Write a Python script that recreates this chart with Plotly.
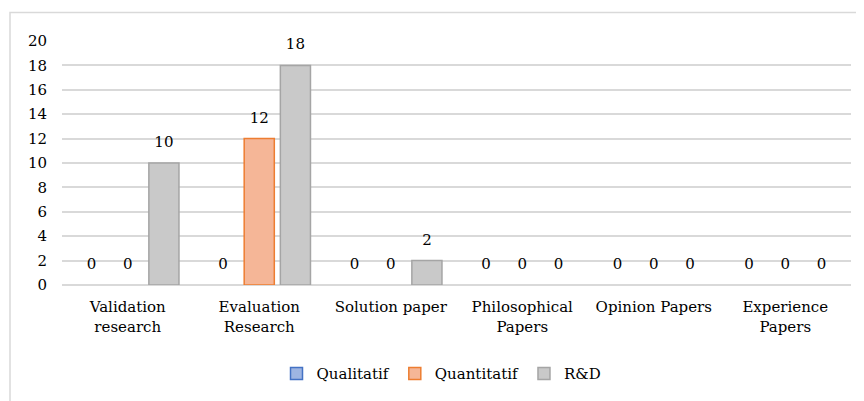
import plotly.graph_objects as go

categories = ["Validation<br>research", "Evaluation<br>Research", "Solution paper",
              "Philosophical<br>Papers", "Opinion Papers", "Experience<br>Papers"]
qualitatif = [0, 0, 0, 0, 0, 0]
quantitatif = [0, 12, 0, 0, 0, 0]
rnd = [10, 18, 2, 0, 0, 0]
y_ticks = [0, 2, 4, 6, 8, 10, 12, 14, 16, 18, 20]

FONT = "DejaVu Serif"
FS = 15

series = [
    ("Qualitatif", qualitatif, "#9EB5E2", "#4472C4"),
    ("Quantitatif", quantitatif, "#F5B697", "#ED7D31"),
    ("R&D", rnd, "#C9C9C9", "#A5A5A5"),
]

fig = go.Figure()
for i, (name, vals, fill, line) in enumerate(series):
    fig.add_trace(go.Bar(
        x=categories, y=vals, name=name, offsetgroup=str(i), showlegend=False,
        marker=dict(color=fill,
                    line=dict(color=line, width=[1.5 if v else 0 for v in vals])),
    ))
    fig.add_trace(go.Bar(
        x=[categories[0]], y=[None], name=name, offsetgroup=str(i), showlegend=True,
        marker=dict(color=fill, line=dict(color=line, width=1.5)), hoverinfo="skip",
    ))
for i, (name, vals, fill, line) in enumerate(series):
    fig.add_trace(go.Scatter(
        x=categories, y=vals, mode="markers+text", offsetgroup=str(i),
        text=[str(v) for v in vals], textposition="top center",
        textfont=dict(family=FONT, size=FS, color="#000000"),
        marker=dict(size=18, color="rgba(0,0,0,0)"),
        showlegend=False, hoverinfo="skip", cliponaxis=False,
    ))

fig.update_layout(
    width=864, height=401,
    margin=dict(l=54, r=21, t=32.5, b=123.5),
    paper_bgcolor="white", plot_bgcolor="white",
    barmode="group", scattermode="group",
    bargap=0.175, bargroupgap=0.167,
    font=dict(family=FONT, size=FS, color="#000000"),
    showlegend=True,
    legend=dict(orientation="h", x=0.481, xanchor="center", y=-0.3635, yanchor="middle",
                font=dict(family=FONT, size=FS), traceorder="normal",
                itemwidth=30, tracegroupgap=0),
    xaxis=dict(showgrid=False, showline=False, ticks="", tickfont=dict(family=FONT, size=FS),
               ticklabelstandoff=11, fixedrange=True),
    yaxis=dict(range=[0, 20], tickvals=y_ticks, showgrid=True, gridcolor="#D9D9D9",
               gridwidth=1.5, zeroline=True, zerolinecolor="#D9D9D9", zerolinewidth=1.5,
               showline=False, ticks="", ticklabelstandoff=14,
               tickfont=dict(family=FONT, size=FS)),
    shapes=[dict(type="rect", xref="paper", yref="paper",
                 x0=(2 - 54) / 789, x1=1.2, y0=-1.0, y1=(277.5 - 4) / 245,
                 line=dict(color="#D9D9D9", width=1.5), fillcolor="rgba(0,0,0,0)",
                 layer="below")],
)

fig.write_html("out.html")
